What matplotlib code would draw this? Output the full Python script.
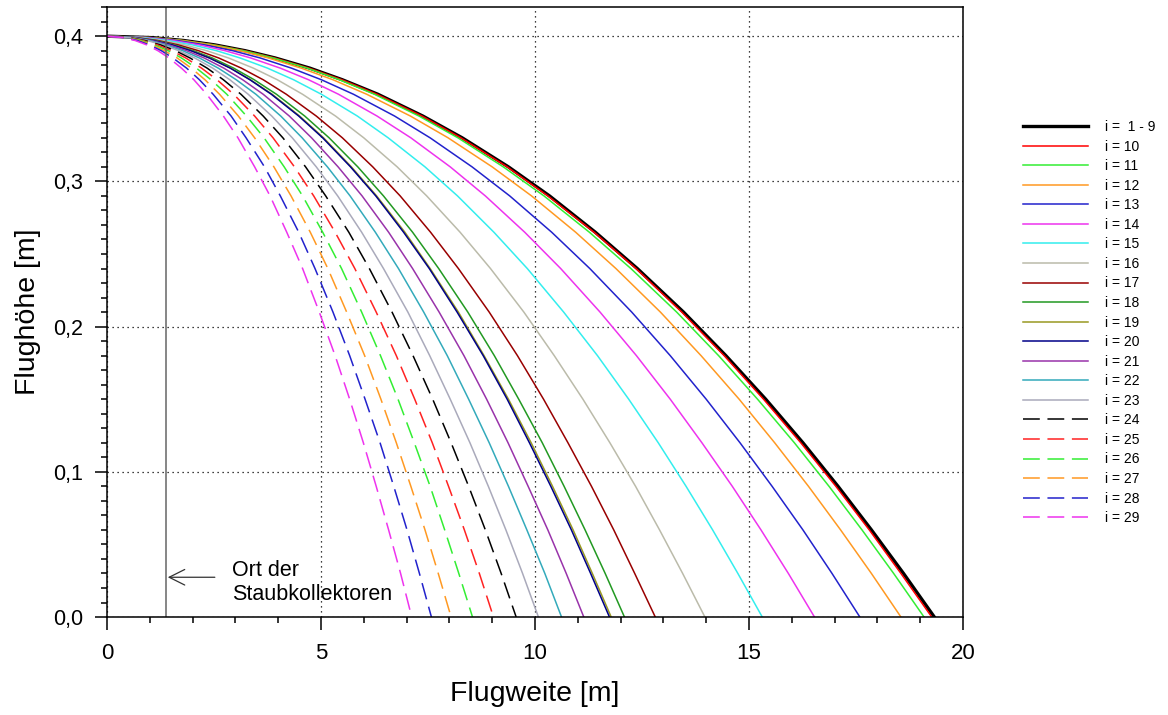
import numpy as np
import matplotlib
matplotlib.use("Agg")
import matplotlib.pyplot as plt
from matplotlib.ticker import MultipleLocator, FuncFormatter

plt.rcParams['font.family'] = ['Liberation Sans', 'DejaVu Sans']

# heights [m] at which the horizontal distance was read for each curve
heights = [0.4, 0.399, 0.397, 0.394, 0.39, 0.385, 0.378, 0.37, 0.36, 0.345,
           0.33, 0.31, 0.29, 0.265, 0.24, 0.21, 0.18, 0.15, 0.12, 0.09,
           0.06, 0.03, 0.0]

labels = ["i =  1 - 9", "i = 10", "i = 11", "i = 12", "i = 13", "i = 14",
          "i = 15", "i = 16", "i = 17", "i = 18", "i = 19", "i = 20",
          "i = 21", "i = 22", "i = 23", "i = 24", "i = 25", "i = 26",
          "i = 27", "i = 28", "i = 29"]

# flight distance [m] at those heights, one row per curve
distances = [
    [0, 1.06, 1.80, 2.52, 3.23, 3.93, 4.74, 5.50, 6.33, 7.38, 8.30, 9.38,
     10.34, 11.41, 12.39, 13.47, 14.46, 15.39, 16.26, 17.08, 17.86, 18.61, 19.33],
    [0, 1.05, 1.80, 2.51, 3.22, 3.92, 4.72, 5.49, 6.31, 7.36, 8.27, 9.35,
     10.30, 11.38, 12.36, 13.43, 14.42, 15.34, 16.21, 17.03, 17.81, 18.55, 19.27],
    [0, 1.04, 1.78, 2.49, 3.19, 3.88, 4.68, 5.43, 6.25, 7.29, 8.20, 9.26,
     10.21, 11.27, 12.24, 13.31, 14.29, 15.20, 16.06, 16.87, 17.64, 18.38, 19.09],
    [0, 1.01, 1.73, 2.42, 3.10, 3.77, 4.54, 5.28, 6.07, 7.09, 7.97, 9.00,
     9.92, 10.95, 11.89, 12.93, 13.88, 14.77, 15.60, 16.39, 17.14, 17.86, 18.55],
    [0, 0.96, 1.64, 2.29, 2.94, 3.58, 4.31, 5.01, 5.76, 6.72, 7.55, 8.53,
     9.41, 10.39, 11.28, 12.26, 13.16, 14.00, 14.79, 15.54, 16.26, 16.94, 17.59],
    [0, 0.90, 1.54, 2.16, 2.76, 3.36, 4.05, 4.71, 5.41, 6.31, 7.10, 8.02,
     8.84, 9.76, 10.60, 11.52, 12.37, 13.16, 13.90, 14.61, 15.28, 15.92, 16.53],
    [0, 0.84, 1.43, 2.00, 2.56, 3.11, 3.75, 4.36, 5.01, 5.85, 6.57, 7.43,
     8.19, 9.04, 9.82, 10.67, 11.46, 12.19, 12.88, 13.53, 14.15, 14.74, 15.31],
    [0, 0.76, 1.30, 1.82, 2.33, 2.84, 3.42, 3.98, 4.57, 5.34, 6.00, 6.78,
     7.47, 8.25, 8.96, 9.74, 10.45, 11.12, 11.75, 12.35, 12.91, 13.45, 13.97],
    [0, 0.70, 1.19, 1.67, 2.14, 2.61, 3.14, 3.65, 4.19, 4.89, 5.50, 6.21,
     6.85, 7.56, 8.21, 8.93, 9.59, 10.20, 10.77, 11.32, 11.84, 12.33, 12.81],
    [0, 0.66, 1.13, 1.58, 2.02, 2.46, 2.96, 3.44, 3.96, 4.62, 5.19, 5.86,
     6.46, 7.14, 7.75, 8.43, 9.05, 9.62, 10.17, 10.68, 11.17, 11.64, 12.09],
    [0, 0.64, 1.10, 1.54, 1.97, 2.40, 2.89, 3.35, 3.86, 4.50, 5.06, 5.71,
     6.30, 6.96, 7.55, 8.21, 8.81, 9.38, 9.91, 10.41, 10.89, 11.34, 11.78],
    [0, 0.64, 1.09, 1.53, 1.96, 2.39, 2.88, 3.34, 3.84, 4.48, 5.04, 5.69,
     6.28, 6.93, 7.53, 8.18, 8.79, 9.35, 9.87, 10.37, 10.85, 11.30, 11.74],
    [0, 0.61, 1.04, 1.45, 1.86, 2.27, 2.73, 3.17, 3.65, 4.26, 4.78, 5.40,
     5.96, 6.58, 7.14, 7.76, 8.34, 8.87, 9.37, 9.84, 10.30, 10.73, 11.14],
    [0, 0.58, 0.99, 1.38, 1.77, 2.16, 2.60, 3.02, 3.48, 4.06, 4.56, 5.15,
     5.68, 6.27, 6.81, 7.40, 7.95, 8.45, 8.93, 9.38, 9.81, 10.23, 10.62],
    [0, 0.55, 0.94, 1.31, 1.68, 2.05, 2.47, 2.87, 3.30, 3.85, 4.33, 4.89,
     5.39, 5.95, 6.46, 7.03, 7.54, 8.02, 8.48, 8.91, 9.32, 9.71, 10.08],
    [0, 0.52, 0.89, 1.25, 1.60, 1.94, 2.34, 2.72, 3.13, 3.65, 4.11, 4.64,
     5.11, 5.65, 6.13, 6.66, 7.15, 7.61, 8.04, 8.45, 8.84, 9.21, 9.56],
    [0, 0.49, 0.84, 1.18, 1.51, 1.84, 2.21, 2.57, 2.96, 3.45, 3.88, 4.38,
     4.83, 5.33, 5.79, 6.29, 6.76, 7.19, 7.60, 7.98, 8.35, 8.70, 9.03],
    [0, 0.47, 0.80, 1.11, 1.43, 1.74, 2.09, 2.43, 2.80, 3.26, 3.67, 4.14,
     4.57, 5.04, 5.48, 5.95, 6.39, 6.80, 7.18, 7.55, 7.89, 8.22, 8.54],
    [0, 0.44, 0.75, 1.05, 1.34, 1.64, 1.97, 2.29, 2.63, 3.07, 3.45, 3.90,
     4.30, 4.75, 5.16, 5.60, 6.02, 6.40, 6.76, 7.10, 7.43, 7.74, 8.04],
    [0, 0.41, 0.71, 0.99, 1.27, 1.54, 1.86, 2.16, 2.48, 2.90, 3.25, 3.68,
     4.05, 4.48, 4.86, 5.28, 5.67, 6.03, 6.38, 6.70, 7.01, 7.30, 7.58],
    [0, 0.39, 0.66, 0.93, 1.19, 1.45, 1.74, 2.03, 2.33, 2.72, 3.06, 3.45,
     3.81, 4.20, 4.57, 4.96, 5.33, 5.67, 5.99, 6.29, 6.58, 6.86, 7.12],
]
colors = ["#000000", "#ff0000", "#33ee33", "#ff9922", "#2222cc", "#ee33ee",
          "#33eeee", "#bbbbaa", "#990000", "#229922", "#999922", "#000088",
          "#9933aa", "#33aabb", "#aaaabb",
          "#000000", "#ff2222", "#33ee33", "#ff9922", "#2222cc", "#ee33ee"]
dashed = [False] * 15 + [True] * 6

collector_x = 1.38

fig = plt.figure(figsize=(11.68, 7.15), dpi=100)
ax = fig.add_axes([0.0916, 0.137, 0.7329, 0.853])

for k, (lab, xs, c, d) in enumerate(zip(labels, distances, colors, dashed)):
    lw = 2.4 if k == 0 else 1.1
    line, = ax.plot(xs, heights, color=c, lw=lw, label=lab)
    if d:
        line.set_dashes((11, 5))

ax.axvline(collector_x, color="#666666", lw=1.1)
ax.annotate("", xy=(collector_x + 0.04, 0.0274), xytext=(2.52, 0.0274),
            arrowprops=dict(arrowstyle="->", color="#333333", lw=0.9,
                            shrinkA=0, shrinkB=0, mutation_scale=28))
ax.text(2.93, 0.0238, "Ort der\nStaubkollektoren", fontsize=15.5,
        va="center", ha="left", linespacing=1.15)

ax.set_xlim(0, 20)
ax.set_ylim(0, 0.42)
ax.xaxis.set_major_locator(MultipleLocator(5))
ax.xaxis.set_minor_locator(MultipleLocator(1))
ax.yaxis.set_major_locator(MultipleLocator(0.1))
ax.yaxis.set_minor_locator(MultipleLocator(0.01))
ax.yaxis.set_major_formatter(FuncFormatter(lambda v, p: f"{v:.1f}".replace(".", ",")))
ax.tick_params(which="major", direction="out", length=9, width=1.1)
ax.tick_params(which="minor", direction="out", length=4.5, width=1.1)
ax.tick_params(axis="x", labelsize=16, pad=10)
ax.tick_params(axis="y", labelsize=15.5, pad=8)
ax.grid(True, which="major", color="black", linestyle=(0, (1, 3)), lw=0.9)
for s in ax.spines.values():
    s.set_linewidth(1.1)

ax.set_xlabel("Flugweite [m]", fontsize=20.5, labelpad=12)
ax.set_ylabel("Flughöhe [m]", fontsize=20.5, labelpad=9)

fig.legend(loc="upper left", bbox_to_anchor=(1023 / 1168, 1 - 120 / 715),
           frameon=False, fontsize=10, handlelength=4.7, handletextpad=1.2,
           labelspacing=0.4, borderpad=0, borderaxespad=0)

fig.savefig("out.png", dpi=100)
